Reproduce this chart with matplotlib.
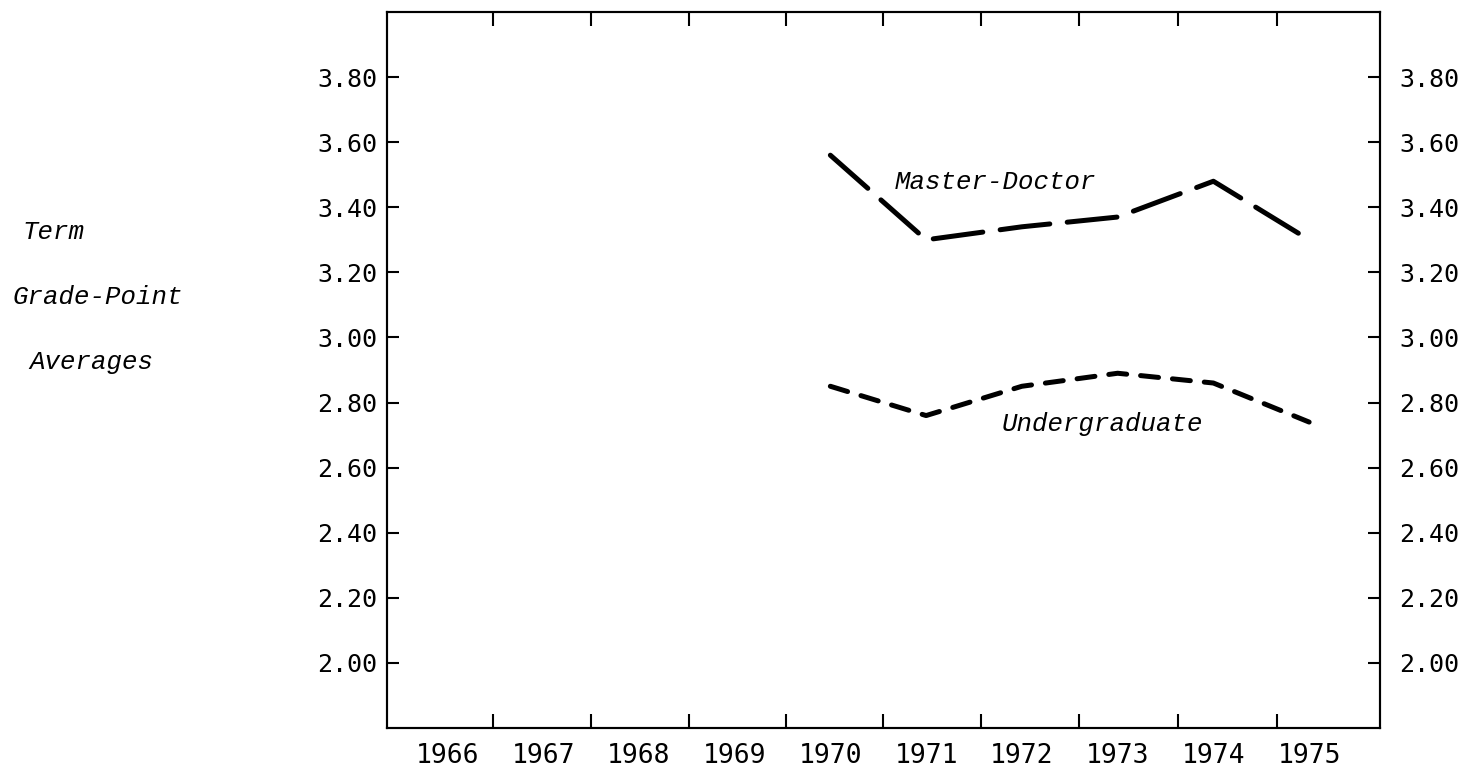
import matplotlib
matplotlib.use('Agg')
import matplotlib.pyplot as plt
from matplotlib.ticker import FixedLocator

# term grade-point averages
years = [1970, 1971, 1972, 1973, 1974, 1975]
master_doctor = [3.56, 3.30, 3.34, 3.37, 3.48, 3.30]
undergraduate = [2.85, 2.76, 2.85, 2.89, 2.86, 2.74]

year_labels = [1966, 1967, 1968, 1969, 1970, 1971, 1972, 1973, 1974, 1975]
gpa_ticks = [2.00, 2.20, 2.40, 2.60, 2.80, 3.00, 3.20, 3.40, 3.60, 3.80]
# tick marks between the year columns (typed by hand, so spacing drifts)
year_dividers = [1966.48, 1967.50, 1968.52, 1969.54, 1970.55, 1971.57, 1972.60, 1973.63, 1974.66]

W, H = 1466, 775
fig = plt.figure(figsize=(W / 100, H / 100), dpi=100)
ax = fig.add_axes([387 / W, (H - 728) / H, (1380 - 387) / W, (728 - 12) / H])

num_font = dict(family='DejaVu Sans Mono', size=18)
year_font = dict(family='DejaVu Sans Mono', size=19)
ital_font = dict(family='Liberation Mono', style='italic', size=18.5)

ax.plot(years, master_doctor, color='black', lw=3.6, dashes=(10, 3.5),
        dash_capstyle='round')
ax.plot(years, undergraduate, color='black', lw=3.6, dashes=(3.6, 2.8),
        dash_capstyle='round')

ax.text(1971.72, 3.477, 'Master-Doctor', ha='center', va='center', **ital_font)
ax.text(1972.84, 2.735, 'Undergraduate', ha='center', va='center', **ital_font)

ax.set_xlim(1965.37, 1975.74)
ax.set_ylim(1.80, 4.00)

for s in ax.spines.values():
    s.set_linewidth(1.5)

# x axis: labels centred in columns, ticks between them on top and bottom
ax.set_xticks(year_labels)
ax.set_xticklabels([str(y) for y in year_labels], **year_font)
ax.tick_params(axis='x', which='major', length=0, pad=11)
ax.xaxis.set_minor_locator(FixedLocator(year_dividers))
ax.tick_params(axis='x', which='minor', direction='in', top=True, bottom=True,
               length=10, width=1.5)

# y axis labelled on both sides
ax.set_yticks(gpa_ticks)
ax.set_yticklabels([f'{v:.2f}' for v in gpa_ticks], **num_font)
ax.tick_params(axis='y', direction='in', length=8.5, width=1.5, pad=7)

ax2 = ax.twinx()
ax2.set_ylim(ax.get_ylim())
ax2.set_yticks(gpa_ticks)
ax2.set_yticklabels([f'{v:.2f}' for v in gpa_ticks], **num_font)
ax2.tick_params(axis='y', direction='in', length=8.5, width=1.5, pad=14)
for s in ax2.spines.values():
    s.set_linewidth(1.5)

# axis title typed in the left margin
fig.text(183 / W, 1 - 297 / H, 'Grade-Point', ha='right', va='center', **ital_font)
fig.text(22 / W, 1 - 232 / H, 'Term', ha='left', va='center', **ital_font)
fig.text(29 / W, 1 - 362 / H, 'Averages', ha='left', va='center', **ital_font)

plt.savefig('out.png', dpi=100)
